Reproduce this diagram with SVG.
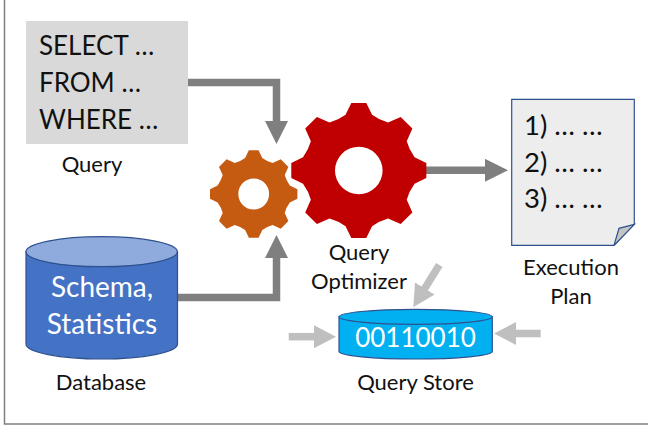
<svg xmlns="http://www.w3.org/2000/svg" width="648" height="426" viewBox="0 0 648 426">
<style>
text{font-family:"Lato","Carlito","Open Sans",sans-serif;fill:#111}
.big{font-size:26px}
.doc{font-size:27.5px}
.lab{font-size:22px;text-anchor:middle}
.w{fill:#fff;text-anchor:middle;font-size:28px}
.c1{fill:none;stroke:#7f7f7f;stroke-width:7.5}
.c2{fill:none;stroke:#bfbfbf;stroke-width:7.5}
.edge{stroke:#2f528f;stroke-width:1.2}
</style>
<defs>
<path id="gear" fill-rule="evenodd" d="M-110-993L110-993L195-820Q306-739 430-705L616-788L788-616L705-430Q739-306 820-195L993-110L993 110L820 195Q739 306 705 430L788 616L616 788L430 705Q306 739 195 820L110 993L-110 993L-195 820Q-306 739-430 705L-616 788L-788 616L-705 430Q-739 306-820 195L-993 110L-993-110L-820-195Q-739-306-705-430L-788-616L-616-788L-430-705Q-306-739-195-820ZM-350 0A350 350 0 1 0 350 0A350 350 0 1 0-350 0Z"/>
<marker id="ah1" markerUnits="userSpaceOnUse" markerWidth="24" markerHeight="23" viewBox="0 0 24 23" refX="1" refY="11.5" orient="auto"><path d="M0 0L23 11.5L0 23Z" fill="#7f7f7f"/></marker>
<marker id="ah2" markerUnits="userSpaceOnUse" markerWidth="23" markerHeight="23" viewBox="0 0 23 23" refX="1" refY="11.5" orient="auto"><path d="M0 0L22 11.5L0 23Z" fill="#bfbfbf"/></marker>
</defs>
<path id="frame" d="M4.5 0V424H648" fill="none" stroke="#7f7f7f" stroke-width="1.5"/>
<g id="connectors">
<path class="c1" d="M188 82.5H276.5V122" marker-end="url(#ah1)"/>
<path class="c1" d="M177 297.5H276.5V257" marker-end="url(#ah1)"/>
<path class="c1" d="M426 170.3H486" marker-end="url(#ah1)"/>
<path class="c2" d="M288.7 336.7H315" marker-end="url(#ah2)"/>
<path class="c2" d="M540.7 333.5H515" marker-end="url(#ah2)"/>
<path class="c2" d="M439.3 265L424.3 289.3" marker-end="url(#ah2)"/>
</g>
<g id="query">
<rect x="26" y="21" width="162" height="123" fill="#d9d9d9"/>
<text class="big" x="39" y="55">SELECT …</text>
<text class="big" x="39" y="92">FROM …</text>
<text class="big" x="39" y="129">WHERE …</text>
<text class="lab" x="92" y="172">Query</text>
</g>
<g id="database">
<path class="edge" d="M26 251.7V344A75.7 15 0 0 0 177.5 344V251.7Z" fill="#4472c4"/>
<ellipse class="edge" cx="101.7" cy="251.7" rx="75.7" ry="15" fill="#8faadc"/>
<text class="w" x="102" y="297">Schema,</text>
<text class="w" x="102" y="334">Statistics</text>
<text class="lab" x="101" y="390">Database</text>
</g>
<g id="small-gear"><use href="#gear" transform="translate(253.7 194) scale(.044)" fill="#c55a11"/></g>
<g id="optimizer">
<use href="#gear" transform="translate(358.8 170.5) scale(.068)" fill="#c00000"/>
<text class="lab" x="359" y="260">Query</text>
<text class="lab" x="359" y="289">Optimizer</text>
</g>
<g id="plan">
<path class="edge" d="M511.7 99.3H634.3V224.3L614 245.3H511.7Z" fill="#ededed"/>
<path class="edge" d="M614 245.3L619 228.3L634.3 224.3Z" fill="#c4c4c4"/>
<text class="doc" x="524" y="135">1) … …</text>
<text class="doc" x="524" y="172">2) … …</text>
<text class="doc" x="524" y="208">3) … …</text>
<text class="lab" x="571" y="275">Execution</text>
<text class="lab" x="571" y="304">Plan</text>
</g>
<g id="store">
<path class="edge" d="M339 316.8V351.5A76.6 7.5 0 0 0 492.3 351.5V316.8Z" fill="#00b0f0"/>
<ellipse class="edge" cx="415.6" cy="316.8" rx="76.6" ry="7.5" fill="#00b0f0"/>
<text class="w" style="font-size:26px" x="415.5" y="347">00110010</text>
<text class="lab" x="415.5" y="390">Query Store</text>
</g>
</svg>
